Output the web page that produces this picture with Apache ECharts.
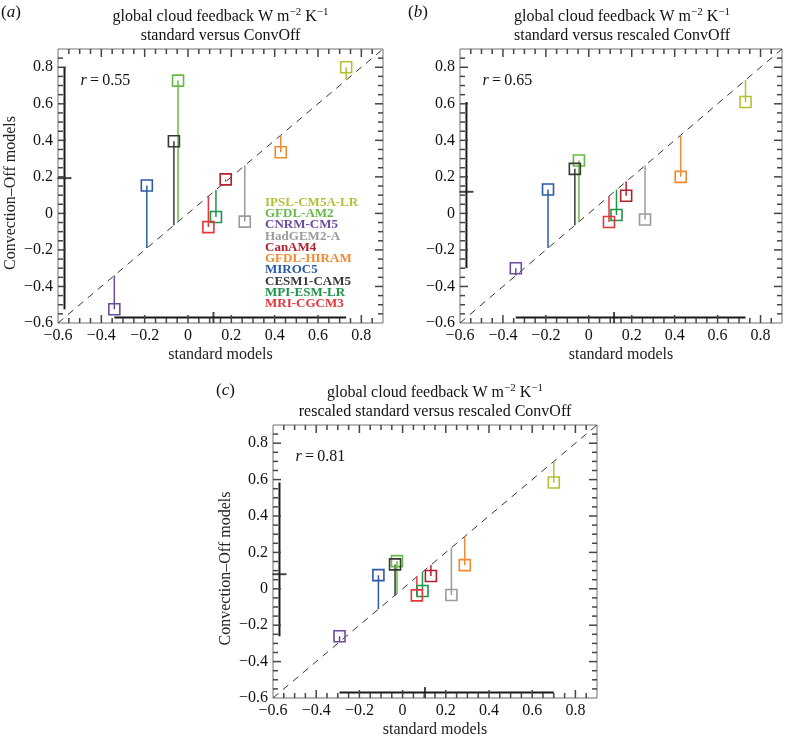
<!DOCTYPE html>
<html><head><meta charset="utf-8">
<script src="https://cdn.jsdelivr.net/npm/echarts@6/dist/echarts.min.js"></script>
<style>html,body{margin:0;padding:0;background:#fff}#c{width:785px;height:739px}</style>
</head><body><div id="c"></div>
<script>
// ---- data ----
const models = ['IPSL-CM5A-LR','GFDL-AM2','CNRM-CM5','HadGEM2-A','CanAM4','GFDL-HIRAM','MIROC5','CESM1-CAM5','MPI-ESM-LR','MRI-CGCM3'];
const standard          = [0.730, -0.046, -0.340, 0.262, 0.174, 0.428, -0.190, -0.065, 0.129, 0.094];
const convOff           = [0.800,  0.727, -0.525, -0.045, 0.186, 0.335, 0.153, 0.395, -0.020, -0.075];
const convOffRescaled   = [0.610,  0.290, -0.300, -0.033, 0.097, 0.200, 0.131, 0.244, -0.009, -0.047];
const standardRescaledC = [0.700, -0.026, -0.292, 0.226, 0.131, 0.288, -0.112, -0.035, 0.092, 0.066];
const convOffRescaledC  = [0.584,  0.152, -0.261, -0.034, 0.070, 0.130, 0.075, 0.134, -0.012, -0.036];
const rValues = ['0.55', '0.65', '0.81'];
const subtitles = ['standard versus ConvOff', 'standard versus rescaled ConvOff', 'rescaled standard versus rescaled ConvOff'];
const panelLetters = ['a', 'b', 'c'];
const axisMin = -0.6, axisMax = 0.9;
const majorStep = 0.2, minorStep = 0.05;
const tickValues = [];
for (let k = 1; k < 30; k++) tickValues.push(Math.round((axisMin + k * minorStep) * 100) / 100);

// ---- style ----
const colors = ['#b5bf35','#66bb46','#6a4c9f','#9b9b9b','#b3202d','#f08a33','#2a5aa8','#383838','#1d9549','#e5353b'];
const FONT = 'Liberation Serif';
const FRAME = '#707070';
const TICK = '#444444';
const grids = [
  {left: 58, top: 49, width: 325, height: 274},
  {left: 460, top: 49, width: 324, height: 274},
  {left: 273, top: 425, width: 324, height: 274}
];
const panels = [
  {x: standard, y: convOff, xName: 'standard models', yName: 'Convection\u2013Off models'},
  {x: standard, y: convOffRescaled, xName: 'standard models', yName: ''},
  {x: standardRescaledC, y: convOffRescaledC, xName: 'standard models', yName: 'Convection\u2013Off models'}
];
const barPos = -0.57;

function fmt(v) {
  const r = Math.round(v * 100) / 100;
  if (Math.abs(r - 0.9) < 1e-6) return '';
  if (r === 0) return '0';
  return r < 0 ? '\u2212' + String(-r) : String(r);
}
function isMajor(v) { return Math.abs(Math.round(v / majorStep) * majorStep - v) < 1e-6; }

// inward frame ticks on all four sides, positioned through the axis scales
function tickItems() {
  const items = [];
  const W = 1.5;
  tickValues.forEach(v => {
    const L = isMajor(v) ? 8 : 5;
    items.push({value: [v, axisMin], symbolSize: [W, L], symbolOffset: [0, -L / 2]});
    items.push({value: [v, axisMax], symbolSize: [W, L], symbolOffset: [0, L / 2]});
    items.push({value: [axisMin, v], symbolSize: [L, W], symbolOffset: [L / 2, 0]});
    items.push({value: [axisMax, v], symbolSize: [L, W], symbolOffset: [-L / 2, 0]});
  });
  return items;
}

const xAxes = [], yAxes = [], series = [], graphics = [];
panels.forEach((p, g) => {
  const common = {type: 'value', gridIndex: g, min: axisMin, max: axisMax, interval: majorStep,
    splitLine: {show: false}, axisLine: {show: false, onZero: false}, axisTick: {show: false}};
  const lab = {show: true, formatter: fmt, fontFamily: FONT, fontSize: 16, color: '#111', margin: 5};
  const nameStyle = {fontFamily: FONT, fontSize: 16, color: '#222'};
  xAxes.push(Object.assign({}, common, {position: 'bottom', axisLabel: lab,
    name: p.xName, nameLocation: 'middle', nameGap: 24, nameTextStyle: nameStyle}));
  yAxes.push(Object.assign({}, common, {position: 'left', axisLabel: lab,
    name: p.yName, nameLocation: 'middle', nameGap: 39, nameTextStyle: Object.assign({padding: [0, 14, 0, 0]}, nameStyle)}));

  const xi = g, yi = g;
  series.push({type: 'scatter', xAxisIndex: xi, yAxisIndex: yi, silent: true, clip: false, z: 5,
    symbol: 'rect', data: tickItems(), itemStyle: {color: TICK, opacity: 1}, emphasis: {disabled: true}});
  // 1:1 dashed line
  series.push({type: 'line', xAxisIndex: xi, yAxisIndex: yi, data: [[axisMin, axisMin], [axisMax, axisMax]],
    symbol: 'none', silent: true, z: 1, lineStyle: {color: '#333', width: 1, type: [7, 6]}});
  // models
  models.forEach((m, i) => {
    const x = p.x[i], y = p.y[i];
    series.push({type: 'line', name: m, xAxisIndex: xi, yAxisIndex: yi, z: 3, silent: true,
      showSymbol: true, animation: false,
      data: [{value: [x, y], symbol: 'rect', symbolSize: 11}, {value: [x, x], symbol: 'none'}],
      lineStyle: {color: colors[i], width: 1.5},
      itemStyle: {color: 'rgba(0,0,0,0)', borderColor: colors[i], borderWidth: 1.6},
      emphasis: {disabled: true}});
  });
  // range + mean bars
  const xmin = Math.min(...p.x), xmax = Math.max(...p.x), xmean = p.x.reduce((a, b) => a + b, 0) / p.x.length;
  const ymin = Math.min(...p.y), ymax = Math.max(...p.y), ymean = p.y.reduce((a, b) => a + b, 0) / p.y.length;
  series.push({type: 'line', xAxisIndex: xi, yAxisIndex: yi, symbol: 'none', silent: true, z: 2,
    data: [[xmin, barPos], [xmax, barPos]], lineStyle: {color: '#1a1a1a', width: 2}});
  series.push({type: 'line', xAxisIndex: xi, yAxisIndex: yi, symbol: 'none', silent: true, z: 2,
    data: [[barPos, ymin], [barPos, ymax]], lineStyle: {color: '#1a1a1a', width: 2}});
  series.push({type: 'scatter', xAxisIndex: xi, yAxisIndex: yi, silent: true, z: 2, symbol: 'rect',
    symbolSize: [2, 11], data: [[xmean, barPos]], itemStyle: {color: '#1a1a1a'}});
  series.push({type: 'scatter', xAxisIndex: xi, yAxisIndex: yi, silent: true, z: 2, symbol: 'rect',
    symbolSize: [14, 2], data: [[barPos, ymean]], itemStyle: {color: '#1a1a1a'}});

  // texts
  const gr = grids[g];
  const cx = gr.left + gr.width / 2;
  graphics.push({type: 'text', x: cx, y: gr.top - 32.5, style: {
    text: 'global cloud feedback W m{sup|\u22122} K{sup|\u22121}', align: 'center', verticalAlign: 'middle',
    font: '16px "' + FONT + '"', lineHeight: 20, fill: '#111',
    rich: {sup: {fontSize: 11, fontFamily: FONT, verticalAlign: 'top', lineHeight: 11, fill: '#111'}}}});
  graphics.push({type: 'text', x: cx, y: gr.top - 13, style: {
    text: subtitles[g], align: 'center', verticalAlign: 'middle', font: '16px "' + FONT + '"', fill: '#111'}});
  graphics.push({type: 'text', x: gr.left + 22.5, y: gr.top + 32, style: {
    text: '{i|r}\u2009=\u2009' + rValues[g], verticalAlign: 'middle', font: '16px "' + FONT + '"', fill: '#111',
    rich: {i: {fontStyle: 'italic', fontSize: 16, fontFamily: FONT, fill: '#111'}}}});
});
// panel letters
const letterPos = [[1, 13], [408, 13], [216, 391]];
letterPos.forEach((pos, k) => {
  graphics.push({type: 'text', x: pos[0], y: pos[1], style: {
    text: '({i|' + panelLetters[k] + '})', verticalAlign: 'middle', font: '17px "' + FONT + '"', fill: '#111',
    rich: {i: {fontStyle: 'italic', fontSize: 17, fontFamily: FONT, fill: '#111'}}}});
});
// model key (panel a)
models.forEach((m, i) => {
  graphics.push({type: 'text', x: 265, y: 202.3 + i * 11.3, style: {
    text: m, verticalAlign: 'middle', font: 'bold 13px "' + FONT + '"', fill: colors[i]}});
});

const chart = echarts.init(document.getElementById('c'), null, {renderer: 'canvas'});
chart.setOption({
  backgroundColor: '#fff',
  animation: false,
  grid: grids.map(gr => Object.assign({show: true, borderColor: FRAME, borderWidth: 1, backgroundColor: 'transparent', containLabel: false}, gr)),
  xAxis: xAxes,
  yAxis: yAxes,
  series: series,
  graphic: graphics
});
</script>
</body></html>
